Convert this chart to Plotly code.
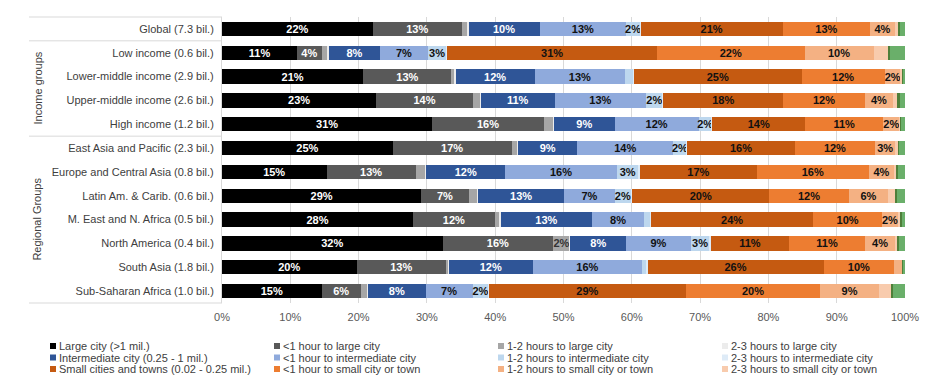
import plotly.graph_objects as go

# ---------------- data ----------------
categories = [
    "Global (7.3 bil.)", "Low income (0.6 bil.)", "Lower-middle income (2.9 bil.)",
    "Upper-middle income (2.6 bil.)", "High income (1.2 bil.)",
    "East Asia and Pacific (2.3 bil.)", "Europe and Central Asia (0.8 bil.)",
    "Latin Am. & Carib. (0.6 bil.)", "M. East and N. Africa (0.5 bil.)",
    "North America (0.4 bil.)", "South Asia (1.8 bil.)", "Sub-Saharan Africa (1.0 bil.)",
]
group_labels = ["Income groups", "Regional Groups"]

large = [22.1, 11.0, 20.7, 22.6, 30.8, 25.0, 15.3, 29.2, 28.0, 32.3, 19.7, 14.6]
lt1_large = [13.0, 3.6, 12.9, 14.1, 16.3, 17.4, 13.1, 6.9, 11.9, 16.2, 13.1, 5.7]
h12_large = [0.9, 0.8, 0.5, 1.1, 1.4, 0.9, 1.4, 1.3, 0.8, 2.4, 0.3, 1.0]
h23_large = [0.1, 0.2, 0.1, 0.1, 0.1, 0.1, 0.1, 0.1, 0.1, 0.1, 0.1, 0.1]
inter = [10.4, 7.6, 11.6, 10.8, 8.9, 8.6, 11.6, 12.6, 13.4, 8.2, 12.3, 8.4]
lt1_inter = [12.7, 6.9, 13.2, 13.4, 12.3, 14.1, 16.3, 7.4, 7.6, 9.4, 16.0, 6.9]
h12_inter = [2.0, 2.8, 1.2, 2.4, 1.9, 1.9, 3.2, 2.4, 0.9, 2.8, 0.7, 2.3]
h23_inter = [0.1, 0.1, 0.1, 0.1, 0.1, 0.1, 0.2, 0.2, 0.1, 0.2, 0.1, 0.1]
small = [20.8, 30.7, 24.6, 17.6, 13.6, 15.8, 17.1, 20.0, 23.8, 11.4, 25.8, 28.8]
lt1_small = [12.8, 21.6, 12.1, 11.9, 11.4, 11.7, 16.4, 11.7, 10.0, 11.2, 10.3, 19.7]
h12_small = [3.6, 10.1, 2.4, 4.2, 2.4, 3.0, 3.7, 5.7, 2.4, 4.3, 1.2, 8.6]
h23_small = [0.6, 2.2, 0.2, 0.6, 0.1, 0.4, 0.3, 1.0, 0.3, 0.4, 0.1, 1.8]
over3_edge = [0.2, 0.2, 0.1, 0.3, 0.1, 0.1, 0.3, 0.3, 0.2, 0.2, 0.1, 0.3]
remote = [0.7, 2.2, 0.3, 0.8, 0.6, 0.9, 1.0, 1.2, 0.5, 0.9, 0.2, 1.7]

series_names = [
    "Large city (>1 mil.)", "<1 hour to large city", "1-2 hours to large city", "2-3 hours to large city",
    "Intermediate city (0.25 - 1 mil.)", "<1 hour to intermediate city", "1-2 hours to intermediate city", "2-3 hours to intermediate city",
    "Small cities and towns (0.02 - 0.25 mil.)", "<1 hour to small city or town", "1-2 hours to small city or town", "2-3 hours to small city or town",
    ">3 hours (edge)", ">3 hours",
]
series_values = [large, lt1_large, h12_large, h23_large, inter, lt1_inter, h12_inter, h23_inter,
                 small, lt1_small, h12_small, h23_small, over3_edge, remote]

tick_vals = [0, 10, 20, 30, 40, 50, 60, 70, 80, 90, 100]
tick_text = ["0%", "10%", "20%", "30%", "40%", "50%", "60%", "70%", "80%", "90%", "100%"]

# ---------------- styles ----------------
colors = ["#000000", "#595959", "#a6a6a6", "#ececec",
          "#2f5597", "#8faadc", "#bdd7ee", "#deebf7",
          "#c55a11", "#ed7d31", "#f4b183", "#f8cbad",
          "#4f7f3a", "#6aaf6a"]
text_colors = ["#ffffff", "#ffffff", "#333333", "#000000",
               "#ffffff", "#111111", "#111111", "#111111",
               "#111111", "#111111", "#111111", "#111111",
               "#111111", "#111111"]
labelled = [True, True, True, False, True, True, True, False, True, True, True, False, False, False]
in_legend = [True] * 12 + [False, False]

FONT = "Liberation Sans, Arial, sans-serif"
OFF = 8  # page body margin offset of the rendered figure
W, H = 936 - OFF, 386 - OFF
L, R, T, B = 222 - OFF, 31, 17 - OFF, 83
PW, PH = W - L - R, H - T - B

fig = go.Figure()
for name, vals, col, tcol, lab in zip(series_names, series_values, colors, text_colors, labelled):
    texts = [f"{round(v)}%" if (lab and v >= 1.75) else "" for v in vals]
    fig.add_trace(go.Bar(
        y=categories, x=vals, name=name, orientation="h",
        marker=dict(color=col, line=dict(width=0)),
        text=texts, textposition="inside", insidetextanchor="middle", textangle=0,
        textfont=dict(family=FONT, size=11, color=tcol, weight="bold"),
        showlegend=False,
    ))

def px_x(px):
    return (px - OFF - L) / PW

def px_y(py):
    return (H - B - (py - OFF)) / PH

shapes = []
n = len(categories)
# separator lines on the left label area
for k in [0, 1, 5, 12]:
    yy = 1 - k / n
    shapes.append(dict(type="line", xref="paper", yref="paper", x0=px_x(29), x1=0, y0=yy, y1=yy,
                       line=dict(color="#d9d9d9", width=1)))

annotations = []
# group labels
for lab_text, yc in zip(group_labels, [1 - 3 / n, 1 - 8.5 / n]):
    annotations.append(dict(text=lab_text, x=px_x(37), y=yc, xref="paper", yref="paper",
                            xanchor="center", yanchor="middle", textangle=-90, showarrow=False,
                            font=dict(family=FONT, size=11, color="#404040")))

# legend (4 columns x 3 rows, row-major)
col_px = [50, 274, 498, 722]
row_py = [346, 357.5, 369]
leg_idx = [i for i in range(len(series_names)) if in_legend[i]]
for j, i in enumerate(leg_idx):
    r, c = divmod(j, 4)
    x0 = col_px[c]
    yc = row_py[r]
    shapes.append(dict(type="rect", xref="paper", yref="paper",
                       x0=px_x(x0), x1=px_x(x0 + 6), y0=px_y(yc + 3), y1=px_y(yc - 3),
                       fillcolor=colors[i], line=dict(width=0)))
    annotations.append(dict(text=series_names[i], x=px_x(x0 + 7), y=px_y(yc), xref="paper", yref="paper",
                            xanchor="left", yanchor="middle", showarrow=False,
                            font=dict(family=FONT, size=11, color="#404040")))

fig.update_layout(
    width=W, height=H, barmode="stack", bargap=0.4,
    margin=dict(l=L, r=R, t=T, b=B, pad=0, autoexpand=False),
    paper_bgcolor="white", plot_bgcolor="white",
    font=dict(family=FONT, size=11, color="#404040"),
    uniformtext=dict(minsize=11, mode="show"),
    showlegend=False,
    shapes=shapes, annotations=annotations,
    xaxis=dict(range=[0, 100], tickvals=tick_vals, ticktext=tick_text, showgrid=True,
               gridcolor="#d9d9d9", gridwidth=1, zeroline=False, showline=False,
               ticks="outside", ticklen=4, tickcolor="rgba(0,0,0,0)", automargin=False,
               tickfont=dict(family=FONT, size=11, color="#595959"), fixedrange=True),
    yaxis=dict(type="category", categoryorder="array", categoryarray=categories, autorange="reversed",
               showline=True, linecolor="#d9d9d9", linewidth=1, showgrid=False, ticks="",
               automargin=False, ticklabelstandoff=5,
               tickfont=dict(family=FONT, size=11, color="#404040"), fixedrange=True),
)

fig.write_html("out.html")
